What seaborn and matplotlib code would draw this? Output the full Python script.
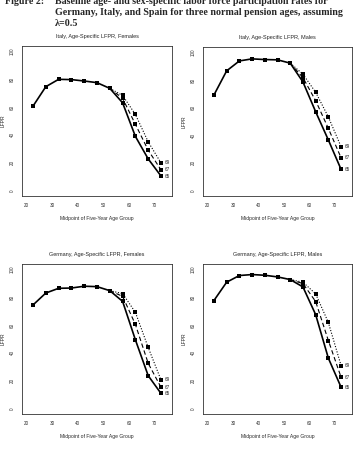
import numpy as np
import pandas as pd
import matplotlib
matplotlib.use("Agg")
import matplotlib.pyplot as plt
import seaborn as sns

# midpoints of five-year age groups
ages = [22.5, 27.5, 32.5, 37.5, 42.5, 47.5, 52.5, 57.5, 62.5, 67.5, 72.5]
pension_ages = ["65", "67", "69"]

# common part up to age 52.5, then one tail per normal pension age
italy_f_head = [60.7, 74.7, 80.0, 79.8, 78.8, 77.6, 73.5]
italy_f_65 = [63.1, 38.9, 22.7, 10.4]
italy_f_67 = [66.3, 47.6, 29.0, 14.8]
italy_f_69 = [68.4, 54.7, 35.0, 19.8]

italy_m_head = [69.2, 86.7, 93.9, 95.4, 94.9, 94.7, 92.3]
italy_m_65 = [78.7, 57.1, 36.6, 15.3]
italy_m_67 = [81.8, 65.1, 45.0, 23.7]
italy_m_69 = [84.3, 71.2, 53.3, 31.7]

germany_f_head = [74.5, 83.1, 86.5, 86.7, 88.0, 87.7, 84.8]
germany_f_65 = [77.1, 49.4, 23.6, 10.8]
germany_f_67 = [80.7, 60.5, 32.5, 15.2]
germany_f_69 = [82.7, 69.2, 43.9, 20.5]

germany_m_head = [77.7, 90.9, 95.7, 96.4, 95.9, 94.7, 92.8]
germany_m_65 = [87.5, 67.6, 36.2, 15.3]
germany_m_67 = [89.9, 77.0, 48.9, 22.5]
germany_m_69 = [90.9, 82.5, 61.9, 30.9]

panels = [
    ("Italy, Age-Specific LFPR, Females", italy_f_head, [italy_f_65, italy_f_67, italy_f_69]),
    ("Italy, Age-Specific LFPR, Males", italy_m_head, [italy_m_65, italy_m_67, italy_m_69]),
    ("Germany, Age-Specific LFPR, Females", germany_f_head, [germany_f_65, germany_f_67, germany_f_69]),
    ("Germany, Age-Specific LFPR, Males", germany_m_head, [germany_m_65, germany_m_67, germany_m_69]),
]

W, H = 358, 455
sns.set_style("white")
plt.rcParams['font.family'] = ['Liberation Sans', 'DejaVu Sans']
fig = plt.figure(figsize=(W / 100, H / 100), dpi=100)

# axes boxes in pixels: left, top, width, height
boxes = [(22, 46, 150, 150), (203, 47, 149, 149), (22, 264, 150, 150), (203, 264, 149, 150)]

styles = {"65": "", "67": (4, 2.5), "69": (1, 1.5)}
widths = {"65": 1.2, "67": 0.8, "69": 0.8}

for (title, head, tails), (l, t, w, h) in zip(panels, boxes):
    ax = fig.add_axes([l / W, 1 - (t + h) / H, w / W, h / H])
    rows = []
    for npa, tail in zip(pension_ages, tails):
        vals = head + tail
        for i, (a, v) in enumerate(zip(ages, vals)):
            if npa != "65" and i < 6:
                continue
            rows.append({"age": a, "lfpr": v, "npa": npa})
    df = pd.DataFrame(rows)
    for npa in pension_ages[::-1]:
        sub = df[df["npa"] == npa]
        sns.lineplot(data=sub, x="age", y="lfpr", ax=ax, color="black",
                     lw=widths[npa], dashes=False, legend=False, sort=False)
        if styles[npa]:
            ax.lines[-1].set_dashes(styles[npa])
        pts = sub if npa == "65" else sub[sub["age"] > 52.5]
        ax.scatter(pts["age"], pts["lfpr"], marker="s", s=5.5, color="black", zorder=3, linewidths=0)
        last = sub.iloc[-1]
        ax.text(last["age"] + 1.3, last["lfpr"], npa, fontsize=3.3, va="center", ha="left")

    ax.set_xlim(18.2, 76.8)
    ax.set_ylim(-4, 104)
    ax.set_xticks([20, 30, 40, 50, 60, 70])
    ax.set_yticks([0, 20, 40, 60, 80, 100])
    ax.tick_params(labelsize=3.3, length=2, width=0.5, pad=3, colors="#333333")
    for lab in ax.get_yticklabels():
        lab.set_rotation(90)
        lab.set_va("center")
    ax.set_xlabel("Midpoint of Five-Year Age Group", fontsize=3.6, labelpad=6)
    ax.set_ylabel("LFPR", fontsize=3.6)
    ax.yaxis.set_label_coords(-16 / w, 0.5)
    ax.set_title(title, fontsize=4, pad=6)
    for s in ax.spines.values():
        s.set_linewidth(0.6)
        s.set_color("#333333")

serif = ['Liberation Serif', 'DejaVu Serif']
fs = 7.2
fig.text(5 / W, 1 - 1.5 / H, "Figure 2:", fontsize=fs, fontweight="bold", family=serif, va="center")
fig.text(55 / W, 1 - 1.5 / H, "Baseline age- and sex-specific labor force participation rates for",
         fontsize=fs, fontweight="bold", family=serif, va="center")
fig.text(55 / W, 1 - 12.7 / H, "Germany, Italy, and Spain for three normal pension ages, assuming",
         fontsize=fs, fontweight="bold", family=serif, va="center")
fig.text(55 / W, 1 - 23.3 / H, "\u03bb=0.5", fontsize=fs, fontweight="bold", family=serif, va="center")

fig.savefig("out.png", dpi=100)
